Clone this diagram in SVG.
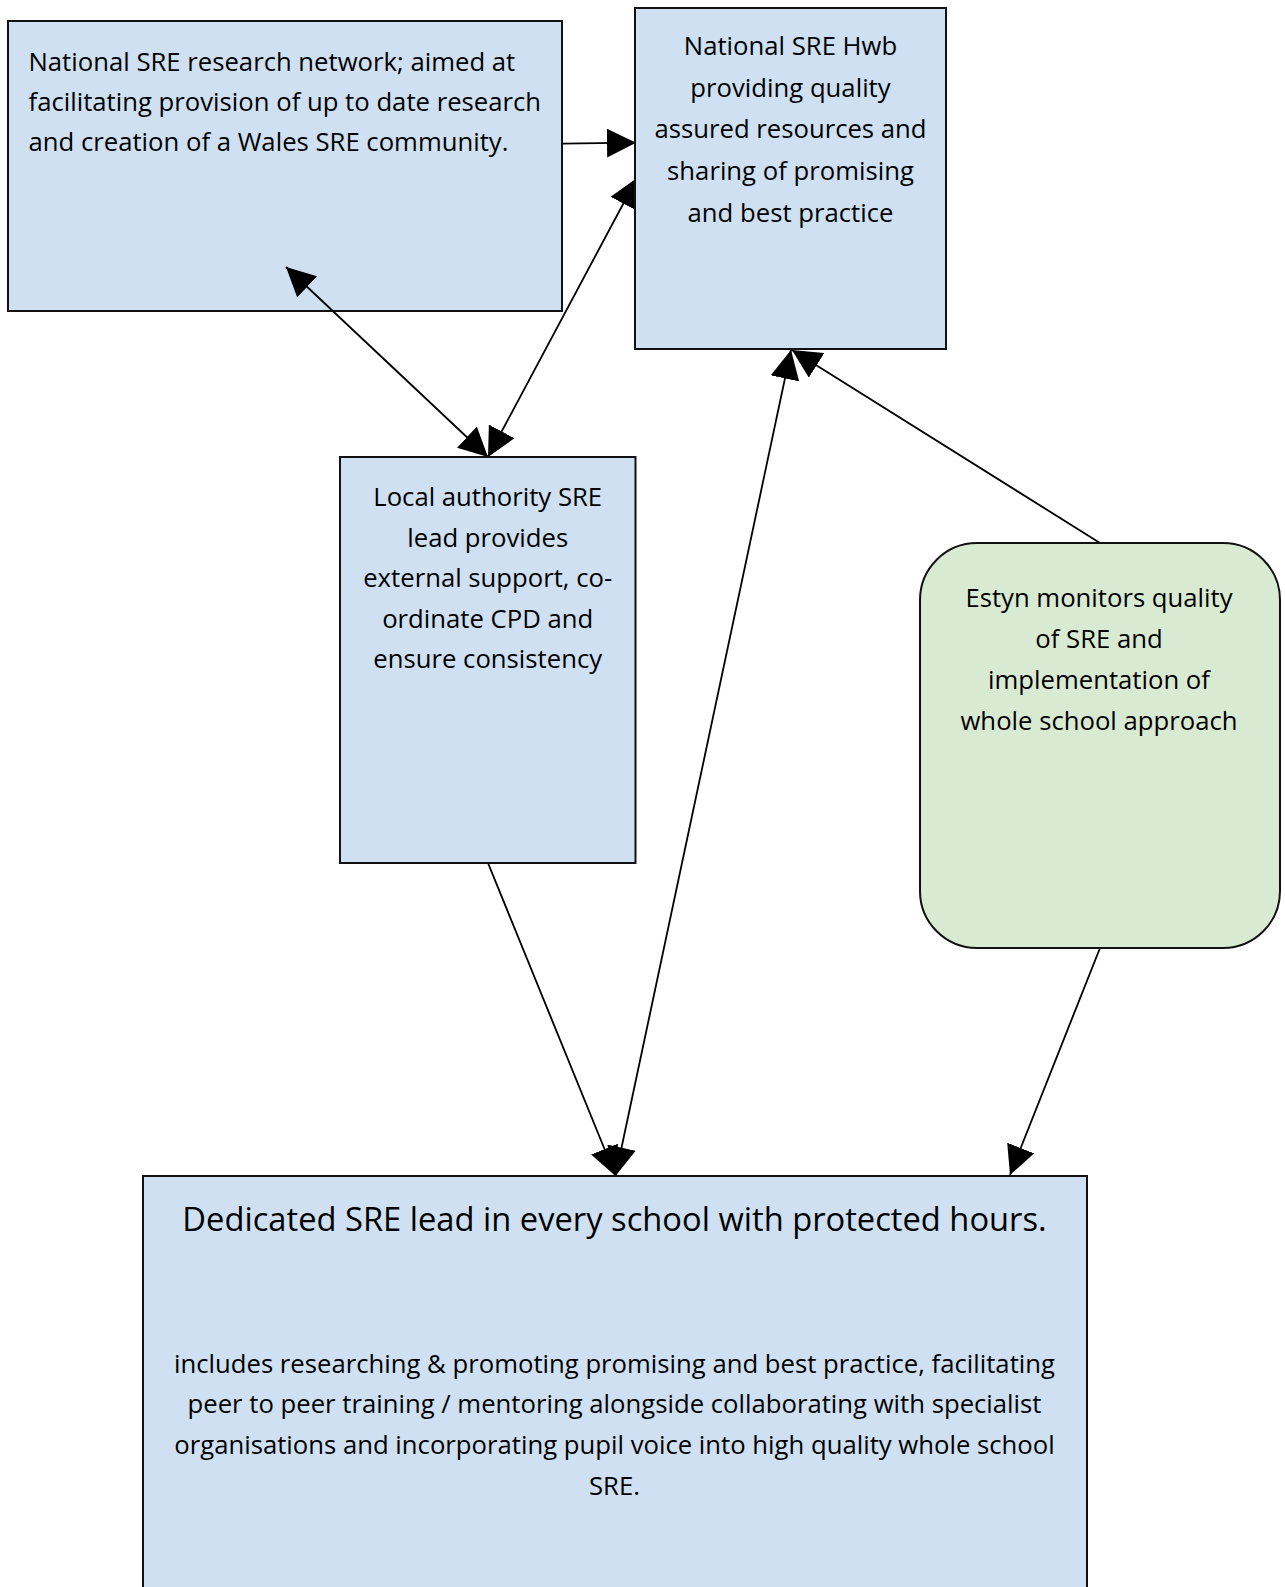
<svg xmlns="http://www.w3.org/2000/svg" width="1285" height="1587" viewBox="0 0 1285 1587">
<style>
.box{fill:#CEE0F1;stroke:#111;stroke-width:2}
.green{fill:#D9EAD3;stroke:#111;stroke-width:2}
.t{font-family:"Open Sans","Liberation Sans",sans-serif;font-size:25.7px;fill:#000}
.c{text-anchor:middle}
.title{font-size:32.7px}
.ln{stroke:#000;stroke-width:1.8;fill:none}
</style>
<defs>
<marker id="ah" markerUnits="userSpaceOnUse" markerWidth="30" markerHeight="29" refX="29" refY="14.5" orient="auto-start-reverse" viewBox="0 0 30 29">
<path d="M0,0 L29,14.5 L0,29 z" fill="#000"/>
</marker>
</defs>
<rect width="1285" height="1587" fill="#fff"/>
<g id="research-network">
<rect class="box" x="8" y="21" width="554" height="290"/>
<text class="t" x="28.5" y="70.5">National SRE research network; aimed at</text>
<text class="t" x="28.5" y="110.8">facilitating provision of up to date research</text>
<text class="t" x="28.5" y="151">and creation of a Wales SRE community.</text>
</g>
<g id="connectors">
<line class="ln" x1="562" y1="143.7" x2="636" y2="142.7" marker-end="url(#ah)"/>
<line class="ln" x1="488" y1="457" x2="637" y2="178" marker-start="url(#ah)" marker-end="url(#ah)"/>
<line class="ln" x1="488" y1="457" x2="286" y2="267" marker-start="url(#ah)" marker-end="url(#ah)"/>
<line class="ln" x1="488" y1="863" x2="615.5" y2="1176" marker-end="url(#ah)"/>
<line class="ln" x1="615.5" y1="1176" x2="791" y2="350" marker-start="url(#ah)" marker-end="url(#ah)"/>
<line class="ln" x1="1100" y1="543" x2="792" y2="350" marker-end="url(#ah)"/>
<line class="ln" x1="1100" y1="948" x2="1010" y2="1175" marker-end="url(#ah)"/>
</g>
<g id="sre-hwb">
<rect class="box" x="635" y="8" width="311" height="341"/>
<text class="t c" x="790.5" y="55">National SRE Hwb</text>
<text class="t c" x="790.5" y="96.7">providing quality</text>
<text class="t c" x="790.5" y="138.4">assured resources and</text>
<text class="t c" x="790.5" y="180">sharing of promising</text>
<text class="t c" x="790.5" y="221.7">and best practice</text>
</g>
<g id="local-authority">
<rect class="box" x="340" y="457" width="295.5" height="406"/>
<text class="t c" x="487.7" y="506">Local authority SRE</text>
<text class="t c" x="487.7" y="546.6">lead provides</text>
<text class="t c" x="487.7" y="587.2">external support, co-</text>
<text class="t c" x="487.7" y="627.8">ordinate CPD and</text>
<text class="t c" x="487.7" y="668.4">ensure consistency</text>
</g>
<g id="estyn">
<rect class="green" x="920" y="543" width="360" height="405" rx="57" ry="57"/>
<text class="t c" x="1099" y="607">Estyn monitors quality</text>
<text class="t c" x="1099" y="648">of SRE and</text>
<text class="t c" x="1099" y="689">implementation of</text>
<text class="t c" x="1099" y="730">whole school approach</text>
</g>
<g id="school-lead">
<rect class="box" x="143" y="1176" width="944" height="420"/>
<text class="t c title" x="614.5" y="1230.7">Dedicated SRE lead in every school with protected hours.</text>
<text class="t c" x="614.5" y="1372.7">includes researching &amp; promoting promising and best practice, facilitating</text>
<text class="t c" x="614.5" y="1413.4">peer to peer training / mentoring alongside collaborating with specialist</text>
<text class="t c" x="614.5" y="1454">organisations and incorporating pupil voice into high quality whole school</text>
<text class="t c" x="614.5" y="1494.7">SRE.</text>
</g>
</svg>
